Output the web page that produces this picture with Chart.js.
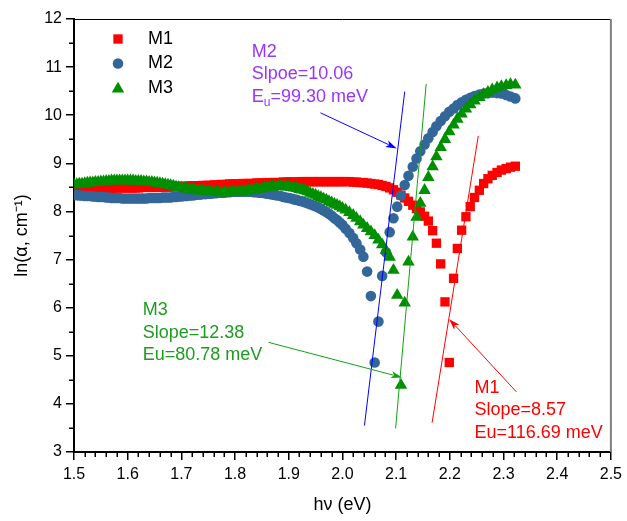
<!DOCTYPE html>
<html>
<head>
<meta charset="utf-8">
<script src="https://cdn.jsdelivr.net/npm/chart.js@4.4.0/dist/chart.umd.min.js"></script>
<style>
  html, body { margin: 0; padding: 0; background: #fff; }
  #wrap { width: 627px; height: 521px; position: relative; }
</style>
</head>
<body>
<div id="wrap"><canvas id="urbach"></canvas></div>
<script>
// ---- data: photon energy grid and ln(alpha) of the three samples ----

const hv = [
    1.500, 1.505, 1.510, 1.515, 1.520, 1.525, 1.530, 1.535, 1.540, 1.545,
    1.550, 1.555, 1.560, 1.565, 1.570, 1.575, 1.580, 1.585, 1.590, 1.595,
    1.600, 1.605, 1.610, 1.615, 1.620, 1.625, 1.630, 1.635, 1.640, 1.645,
    1.650, 1.655, 1.660, 1.665, 1.670, 1.675, 1.680, 1.685, 1.690, 1.695,
    1.700, 1.705, 1.710, 1.715, 1.720, 1.725, 1.730, 1.735, 1.740, 1.745,
    1.750, 1.755, 1.760, 1.765, 1.770, 1.775, 1.780, 1.785, 1.790, 1.795,
    1.800, 1.805, 1.810, 1.815, 1.820, 1.825, 1.830, 1.835, 1.840, 1.845,
    1.850, 1.855, 1.860, 1.865, 1.870, 1.875, 1.880, 1.885, 1.890, 1.895,
    1.900, 1.905, 1.910, 1.915, 1.920, 1.925, 1.930, 1.935, 1.940, 1.945,
    1.950, 1.955, 1.960, 1.965, 1.970, 1.975, 1.980, 1.985, 1.990, 1.995,
    2.000, 2.006, 2.013, 2.020, 2.026, 2.033, 2.039, 2.046, 2.053, 2.060,
    2.067, 2.074, 2.081, 2.088, 2.095, 2.102, 2.109, 2.116, 2.123, 2.131,
    2.138, 2.145, 2.153, 2.160, 2.168, 2.175, 2.183, 2.191, 2.199, 2.207,
    2.214, 2.222, 2.230, 2.238, 2.246, 2.255, 2.263, 2.271, 2.279, 2.288,
    2.296, 2.305, 2.313, 2.322
];

const lnM1 = [
    8.48, 8.48, 8.48, 8.48, 8.48, 8.48, 8.48, 8.48, 8.48, 8.48,
    8.48, 8.48, 8.48, 8.48, 8.48, 8.49, 8.49, 8.49, 8.49, 8.49,
    8.49, 8.49, 8.49, 8.49, 8.49, 8.50, 8.50, 8.50, 8.50, 8.50,
    8.50, 8.50, 8.50, 8.51, 8.51, 8.51, 8.51, 8.51, 8.52, 8.52,
    8.52, 8.52, 8.52, 8.53, 8.53, 8.53, 8.53, 8.53, 8.54, 8.54,
    8.54, 8.54, 8.55, 8.55, 8.55, 8.56, 8.56, 8.56, 8.57, 8.57,
    8.57, 8.57, 8.57, 8.58, 8.58, 8.58, 8.58, 8.58, 8.59, 8.59,
    8.59, 8.59, 8.59, 8.60, 8.60, 8.60, 8.60, 8.60, 8.61, 8.61,
    8.61, 8.61, 8.61, 8.61, 8.61, 8.62, 8.62, 8.62, 8.62, 8.62,
    8.62, 8.62, 8.62, 8.62, 8.62, 8.62, 8.62, 8.62, 8.62, 8.62,
    8.62, 8.62, 8.62, 8.61, 8.61, 8.60, 8.60, 8.59, 8.58, 8.57,
    8.56, 8.54, 8.52, 8.49, 8.45, 8.40, 8.34, 8.28, 8.21, 8.13,
    8.06, 7.99, 7.90, 7.80, 7.60, 7.34, 6.91, 6.12, 4.86, 6.61,
    7.23, 7.61, 7.89, 8.10, 8.29, 8.44, 8.58, 8.68, 8.75, 8.81,
    8.86, 8.89, 8.92, 8.94
];

const lnM2 = [
    8.34, 8.34, 8.33, 8.33, 8.32, 8.32, 8.32, 8.31, 8.31, 8.30,
    8.30, 8.30, 8.29, 8.29, 8.28, 8.28, 8.28, 8.28, 8.27, 8.27,
    8.27, 8.27, 8.27, 8.27, 8.27, 8.27, 8.27, 8.27, 8.28, 8.28,
    8.28, 8.28, 8.28, 8.29, 8.29, 8.29, 8.29, 8.30, 8.30, 8.31,
    8.31, 8.32, 8.32, 8.33, 8.33, 8.34, 8.35, 8.35, 8.36, 8.36,
    8.37, 8.37, 8.38, 8.38, 8.39, 8.39, 8.39, 8.40, 8.40, 8.41,
    8.41, 8.41, 8.41, 8.41, 8.41, 8.41, 8.41, 8.40, 8.40, 8.39,
    8.39, 8.38, 8.37, 8.36, 8.35, 8.34, 8.33, 8.32, 8.30, 8.29,
    8.28, 8.27, 8.25, 8.24, 8.22, 8.21, 8.19, 8.17, 8.15, 8.13,
    8.11, 8.08, 8.05, 8.02, 7.99, 7.95, 7.91, 7.86, 7.82, 7.77,
    7.72, 7.64, 7.55, 7.45, 7.34, 7.21, 7.06, 6.75, 6.24, 4.86,
    5.71, 6.66, 7.15, 7.57, 7.86, 8.10, 8.33, 8.55, 8.74, 8.93,
    9.10, 9.25, 9.39, 9.52, 9.65, 9.77, 9.88, 9.98, 10.07, 10.14,
    10.21, 10.27, 10.32, 10.36, 10.40, 10.43, 10.45, 10.46, 10.47, 10.46,
    10.45, 10.42, 10.39, 10.35
];

const lnM3 = [
    8.55, 8.56, 8.57, 8.57, 8.58, 8.59, 8.60, 8.60, 8.61, 8.61,
    8.62, 8.62, 8.63, 8.63, 8.64, 8.64, 8.64, 8.64, 8.64, 8.64,
    8.64, 8.64, 8.64, 8.63, 8.63, 8.63, 8.62, 8.62, 8.61, 8.61,
    8.60, 8.59, 8.58, 8.57, 8.56, 8.55, 8.54, 8.53, 8.51, 8.50,
    8.49, 8.48, 8.47, 8.46, 8.45, 8.44, 8.43, 8.43, 8.42, 8.42,
    8.41, 8.41, 8.40, 8.40, 8.39, 8.39, 8.39, 8.39, 8.40, 8.40,
    8.40, 8.41, 8.41, 8.42, 8.42, 8.43, 8.44, 8.45, 8.46, 8.47,
    8.48, 8.49, 8.50, 8.51, 8.51, 8.52, 8.52, 8.52, 8.52, 8.51,
    8.51, 8.50, 8.49, 8.48, 8.46, 8.45, 8.43, 8.41, 8.38, 8.36,
    8.34, 8.31, 8.29, 8.26, 8.24, 8.21, 8.18, 8.15, 8.13, 8.10,
    8.07, 8.03, 7.98, 7.92, 7.86, 7.79, 7.72, 7.65, 7.58, 7.50,
    7.41, 7.31, 7.19, 7.05, 6.78, 6.26, 4.39, 6.10, 6.95, 7.47,
    7.88, 8.17, 8.44, 8.71, 8.93, 9.14, 9.33, 9.50, 9.66, 9.80,
    9.92, 10.03, 10.13, 10.22, 10.30, 10.37, 10.43, 10.48, 10.53, 10.57,
    10.60, 10.62, 10.64, 10.63
];

// linear fits of the absorption edge (end points)
const fitM1X = [2.167, 2.253];
const fitM1Y = [3.61, 9.57];
const fitM2X = [2.041, 2.116];
const fitM2Y = [3.55, 10.49];
const fitM3X = [2.099, 2.156];
const fitM3Y = [3.49, 10.65];

// axis ticks
const xTicks = [1.5, 1.6, 1.7, 1.8, 1.9, 2.0, 2.1, 2.2, 2.3, 2.4, 2.5];
const yTicks = [3, 4, 5, 6, 7, 8, 9, 10, 11, 12];

const seriesNames = ['M1', 'M2', 'M3'];

// ---- styles ----
const FONT = "'Liberation Sans', Arial, Helvetica, sans-serif";
const RED = '#ff0000';
const BLUE_PT = '#336699';
const GREEN_PT = '#008f00';
const BLUE_LINE = '#0000ff';
const GREEN_LINE = '#12a012';
const GREEN_TXT = '#1f9c1f';
const PURPLE_TXT = '#9933ff';

function toPoints(xs, ys) {
    return xs.map((x, i) => ({ x, y: ys[i] }));
}

// annotation blocks: anchor in data units, lines of text
const notes = [
    { x: 1.831, y: 11.32, color: PURPLE_TXT, lines: ['M2', 'Slpoe=10.06', ['E', 'u', '=99.30 meV']] },
    { x: 1.628, y: 5.95, color: GREEN_TXT, lines: ['M3', 'Slope=12.38', 'Eu=80.78 meV'] },
    { x: 2.246, y: 4.33, color: RED, lines: ['M1', 'Slope=8.57', 'Eu=116.69 meV'] },
];

const arrows = [
    { from: [1.959, 10.05], to: [2.101, 9.31], color: BLUE_LINE },
    { from: [1.862, 5.28], to: [2.111, 4.55], color: GREEN_LINE },
    { from: [2.324, 4.25], to: [2.199, 5.76], color: RED },
];

function drawMarker(ctx, style, x, y, r, color) {
    ctx.save();
    ctx.fillStyle = color;
    ctx.beginPath();
    if (style === 'rect') {
        const s = r * Math.SQRT1_2;
        ctx.rect(x - s, y - s, 2 * s, 2 * s);
    } else if (style === 'circle') {
        ctx.arc(x, y, r, 0, Math.PI * 2);
    } else {
        ctx.moveTo(x, y - r);
        ctx.lineTo(x + r * Math.sin(Math.PI * 2 / 3), y + r * 0.5);
        ctx.lineTo(x - r * Math.sin(Math.PI * 2 / 3), y + r * 0.5);
        ctx.closePath();
    }
    ctx.fill();
    ctx.restore();
}

// frame, minor ticks, arrows, notes and legend
const decorations = {
    id: 'decorations',
    afterDatasetsDraw(chart) {
        const { ctx, chartArea: a, scales: { x, y } } = chart;

        // arrows
        arrows.forEach(ar => {
            const x0 = x.getPixelForValue(ar.from[0]);
            const y0 = y.getPixelForValue(ar.from[1]);
            const x1 = x.getPixelForValue(ar.to[0]);
            const y1 = y.getPixelForValue(ar.to[1]);
            const ang = Math.atan2(y1 - y0, x1 - x0);
            const len = 11, half = 3.6;
            ctx.save();
            ctx.strokeStyle = ar.color;
            ctx.fillStyle = ar.color;
            ctx.lineWidth = 1;
            ctx.beginPath();
            ctx.moveTo(x0, y0);
            ctx.lineTo(x1 - Math.cos(ang) * len * 0.8, y1 - Math.sin(ang) * len * 0.8);
            ctx.stroke();
            ctx.beginPath();
            ctx.moveTo(x1, y1);
            ctx.lineTo(x1 - Math.cos(ang) * len - Math.sin(ang) * half, y1 - Math.sin(ang) * len + Math.cos(ang) * half);
            ctx.lineTo(x1 - Math.cos(ang) * len * 0.75, y1 - Math.sin(ang) * len * 0.75);
            ctx.lineTo(x1 - Math.cos(ang) * len + Math.sin(ang) * half, y1 - Math.sin(ang) * len - Math.cos(ang) * half);
            ctx.closePath();
            ctx.fill();
            ctx.restore();
        });

        // text notes
        ctx.save();
        ctx.font = '18px ' + FONT;
        ctx.textBaseline = 'middle';
        ctx.textAlign = 'left';
        notes.forEach(n => {
            const px = x.getPixelForValue(n.x);
            const py = y.getPixelForValue(n.y);
            ctx.fillStyle = n.color;
            n.lines.forEach((line, i) => {
                const ly = py + i * 22.5;
                if (Array.isArray(line)) {
                    // main text, subscript, rest
                    ctx.font = '18px ' + FONT;
                    ctx.fillText(line[0], px, ly);
                    let cx = px + ctx.measureText(line[0]).width;
                    ctx.font = '12px ' + FONT;
                    ctx.fillText(line[1], cx, ly + 6);
                    cx += ctx.measureText(line[1]).width;
                    ctx.font = '18px ' + FONT;
                    ctx.fillText(line[2], cx, ly);
                } else {
                    ctx.fillText(line, px, ly);
                }
            });
        });
        ctx.restore();

        // legend
        const legendStyles = [['rect', 6.6, RED], ['circle', 5.3, BLUE_PT], ['triangle', 7.2, GREEN_PT]];
        ctx.save();
        ctx.font = '18px ' + FONT;
        ctx.textBaseline = 'middle';
        ctx.fillStyle = '#000';
        seriesNames.forEach((name, i) => {
            const ly = a.top + 20 + i * 24.5;
            const [st, r, col] = legendStyles[i];
            drawMarker(ctx, st, a.left + 44, ly + (st === 'triangle' ? 1 : 0), r, col);
            ctx.fillStyle = '#000';
            ctx.fillText(name, a.left + 74, ly);
        });
        ctx.restore();
    },
    afterDraw(chart) {
        const { ctx, chartArea: a, scales: { x, y } } = chart;
        ctx.save();
        // top and right frame
        ctx.strokeStyle = '#000';
        ctx.lineWidth = 1;
        ctx.beginPath();
        ctx.moveTo(a.left, a.top + 0.5);
        ctx.lineTo(a.right, a.top + 0.5);
        ctx.stroke();
        ctx.strokeStyle = '#7f7f7f';
        ctx.lineWidth = 2;
        ctx.beginPath();
        ctx.moveTo(a.right, a.top);
        ctx.lineTo(a.right, a.bottom);
        ctx.stroke();

        // minor ticks
        ctx.strokeStyle = '#000';
        ctx.lineWidth = 1.5;
        ctx.beginPath();
        for (let k = 0; k < xTicks.length - 1; k++) {
            for (let m = 1; m < 5; m++) {
                const px = Math.round(x.getPixelForValue(xTicks[k] + m * 0.02)) + 0.25;
                ctx.moveTo(px, a.bottom);
                ctx.lineTo(px, a.bottom + 5);
            }
        }
        for (let k = 0; k < yTicks.length - 1; k++) {
            const py = Math.round(y.getPixelForValue(yTicks[k] + 0.5)) + 0.25;
            ctx.moveTo(a.left, py);
            ctx.lineTo(a.left - 5, py);
        }
        ctx.stroke();
        ctx.restore();
    }
};

const ctx = document.getElementById('urbach');

new Chart(ctx, {
    type: 'scatter',
    data: {
        datasets: [
            { label: 'fit M2', data: toPoints(fitM2X, fitM2Y), showLine: true, borderColor: BLUE_LINE, borderWidth: 1, pointRadius: 0, order: 0 },
            { label: 'fit M3', data: toPoints(fitM3X, fitM3Y), showLine: true, borderColor: GREEN_LINE, borderWidth: 1, pointRadius: 0, order: 0 },
            { label: 'fit M1', data: toPoints(fitM1X, fitM1Y), showLine: true, borderColor: RED, borderWidth: 1, pointRadius: 0, order: 0 },
            { label: 'M3', data: toPoints(hv, lnM3), pointStyle: 'triangle', pointRadius: 7.2, backgroundColor: GREEN_PT, borderWidth: 0, order: 1 },
            { label: 'M2', data: toPoints(hv, lnM2), pointStyle: 'circle', pointRadius: 5.3, backgroundColor: BLUE_PT, borderWidth: 0, order: 2 },
            { label: 'M1', data: toPoints(hv, lnM1), pointStyle: 'rect', pointRadius: 6.6, backgroundColor: RED, borderWidth: 0, order: 3 },
        ],
    },
    options: {
        responsive: true,
        maintainAspectRatio: false,
        animation: false,
        layout: { padding: { left: 0, top: 19, right: 13, bottom: 0 } },
        plugins: {
            legend: { display: false },
            tooltip: { enabled: false },
        },
        scales: {
            x: {
                type: 'linear',
                min: 1.5,
                max: 2.5,
                afterBuildTicks: scale => { scale.ticks = xTicks.map(v => ({ value: v })); },
                afterFit: scale => { scale.height = 69; },
                ticks: {
                    color: '#000',
                    padding: 5,
                    font: { family: FONT, size: 16 },
                    callback: v => Number(v).toFixed(1),
                },
                grid: { drawOnChartArea: false, drawTicks: true, tickLength: 8, color: '#000', lineWidth: 1.5 },
                border: { display: true, color: '#000', width: 2 },
                title: {
                    display: true,
                    text: 'hν (eV)',
                    color: '#000',
                    font: { family: FONT, size: 18 },
                    padding: { top: 0, bottom: 5 },
                },
            },
            y: {
                type: 'linear',
                min: 3,
                max: 12,
                afterBuildTicks: scale => { scale.ticks = yTicks.map(v => ({ value: v })); },
                afterFit: scale => { scale.width = 74; },
                ticks: {
                    color: '#000',
                    padding: 4,
                    font: { family: FONT, size: 16 },
                    callback: v => String(v),
                },
                grid: { drawOnChartArea: false, drawTicks: true, tickLength: 8, color: '#000', lineWidth: 1.5 },
                border: { display: true, color: '#000', width: 2 },
                title: {
                    display: true,
                    text: 'ln(α, cm⁻¹)',
                    color: '#000',
                    font: { family: FONT, size: 18 },
                    padding: { top: 11, bottom: 0 },
                },
            },
        },
    },
    plugins: [decorations],
});
</script>
</body>
</html>
